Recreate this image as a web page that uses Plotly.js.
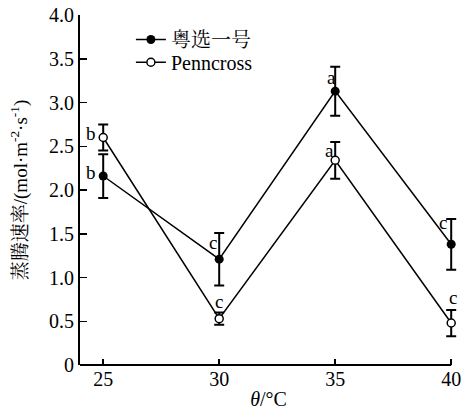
<!DOCTYPE html>
<html><head><meta charset="utf-8">
<script src="https://cdn.plot.ly/plotly-3.0.1.min.js"></script>
<style>body{margin:0;background:#fff}#chart{width:463px;height:413px}</style>
</head><body><div id="chart"></div>
<script>
const temps = [25, 30, 35, 40];
const seriesNames = ['粤选一号', 'Penncross'];
const yuexuan = [2.16, 1.21, 3.13, 1.38];
const yuexuanErr = [0.25, 0.30, 0.28, 0.29];
const penncross = [2.60, 0.53, 2.34, 0.48];
const penncrossErr = [0.15, 0.07, 0.21, 0.15];
const yuexuanLetters = ['b', 'c', 'a', 'c'];
const penncrossLetters = ['b', 'c', 'a', 'c'];
const yTickVals = [0, 0.5, 1, 1.5, 2, 2.5, 3, 3.5, 4];
const yTickText = ['0', '0.5', '1.0', '1.5', '2.0', '2.5', '3.0', '3.5', '4.0'];
const xTickVals = [25, 30, 35, 40];
const xStart = 24, xEnd = 40;

const font = 'Liberation Serif, Times New Roman, Noto Serif CJK SC, Noto Sans CJK SC, serif';
const black = '#000';

const traces = [
  {x: temps, y: yuexuan, name: seriesNames[0], type: 'scatter', mode: 'lines+markers',
   legend: 'legend',
   line: {color: black, width: 1.5},
   marker: {symbol: 'circle', size: 9, color: black},
   error_y: {type: 'data', array: yuexuanErr, visible: true, color: black, thickness: 2, width: 5},
   cliponaxis: false},
  {x: temps, y: penncross, name: seriesNames[1], type: 'scatter', mode: 'lines+markers',
   legend: 'legend2',
   line: {color: black, width: 1.5},
   marker: {symbol: 'circle', size: 8, color: '#fff', line: {color: black, width: 1.5}},
   error_y: {type: 'data', array: penncrossErr, visible: true, color: black, thickness: 2, width: 5},
   cliponaxis: false}
];

const offA = [[-12, 4], [-6, 17], [-4, 14], [-8, 22]];
const offB = [[-12, 4], [0, 17], [-6, 10], [2, 26]];
const annotations = [];
temps.forEach((t, i) => {
  annotations.push({x: t, y: yuexuan[i], text: yuexuanLetters[i], showarrow: false,
    xshift: offA[i][0], yshift: offA[i][1], font: {family: font, size: 19, color: black}});
  annotations.push({x: t, y: penncross[i], text: penncrossLetters[i], showarrow: false,
    xshift: offB[i][0], yshift: offB[i][1], font: {family: font, size: 19, color: black}});
});

const legendBase = {xanchor: 'left', yanchor: 'middle', bgcolor: 'rgba(0,0,0,0)',
  font: {family: font, size: 20, color: black}, itemwidth: 30, borderwidth: 0};

const layout = {
  width: 463, height: 413,
  margin: {l: 80, r: 6, t: 15, b: 48},
  paper_bgcolor: '#fff', plot_bgcolor: '#fff',
  font: {family: font, size: 18, color: black},
  showlegend: true,
  legend: Object.assign({}, legendBase, {x: 0.135, y: 0.93}),
  legend2: Object.assign({}, legendBase, {x: 0.135, y: 0.865}),
  xaxis: {range: [xStart, xEnd + 0.25], tickvals: xTickVals, ticks: 'inside', ticklen: 6, tickwidth: 1.5,
    tickcolor: black, showline: false, showgrid: false,
    zeroline: false, tickfont: {family: font, size: 20, color: black},
    title: {text: '<i>θ</i>/°C', font: {family: font, size: 20, color: black}, standoff: 2}},
  yaxis: {range: [0, 4], tickvals: yTickVals, ticktext: yTickText, ticks: 'inside', ticklen: 7,
    tickwidth: 1.5, tickcolor: black, showline: true, linecolor: black, linewidth: 2,
    showgrid: false, zeroline: false, tickfont: {family: font, size: 20, color: black},
    title: {text: '蒸腾速率/(mol·m<sup>-2</sup>·s<sup>-1</sup>)', font: {family: font, size: 19, color: black}, standoff: 16}},
  shapes: [{type: 'line', xref: 'x', yref: 'paper', x0: xStart, x1: xEnd, y0: 0, y1: 0,
    line: {color: black, width: 2}}],
  annotations: annotations
};

Plotly.newPlot('chart', traces, layout, {displayModeBar: false, staticPlot: true});
</script></body></html>
